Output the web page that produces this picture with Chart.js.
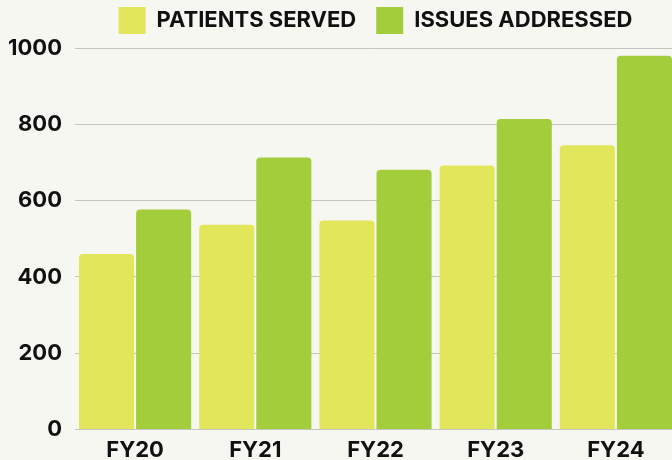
<!DOCTYPE html>
<html>
<head>
<meta charset="utf-8">
<script src="https://cdn.jsdelivr.net/npm/chart.js@4"></script>
<style>
  html, body { margin: 0; padding: 0; background: #f7f7f2; overflow: hidden; }
  #wrap { width: 680px; height: 460px; position: relative; }
</style>
</head>
<body>
<div id="wrap"><canvas id="fyChart"></canvas></div>
<script>
const years = ['FY20', 'FY21', 'FY22', 'FY23', 'FY24'];
const patientsServed = [460, 537, 548, 692, 745];
const issuesAddressed = [577, 713, 681, 814, 980];
const yTicks = [0, 200, 400, 600, 800, 1000];

Chart.defaults.font.family = 'Inter';
Chart.defaults.font.weight = 'bold';
Chart.defaults.color = '#111';

// give the legend a bit more room below it
const legendGap = {
    id: 'legendGap',
    beforeInit(chart) {
        const fit = chart.legend.fit;
        chart.legend.fit = function () {
            fit.call(this);
            this.height += 4;
        };
    }
};

var ctx = document.getElementById('fyChart');
var myChart = new Chart(ctx, {
    type: 'bar',
    plugins: [legendGap],
    data: {
        labels: years,
        datasets: [
            {
                label: 'PATIENTS SERVED',
                data: patientsServed,
                backgroundColor: '#e2e65a',
            },
            {
                label: 'ISSUES ADDRESSED',
                data: issuesAddressed,
                backgroundColor: '#a3cd3b',
            },
        ]
    },
    options: {
        responsive: true,
        maintainAspectRatio: false,
        animation: false,
        layout: {
            padding: { top: -13, left: -5, right: 4, bottom: -12 },
        },
        datasets: {
            bar: {
                categoryPercentage: 0.95,
                barPercentage: 0.965,
                borderRadius: 4,
            },
        },
        plugins: {
            legend: {
                position: 'top',
                fullSize: false,
                labels: {
                    boxWidth: 27,
                    boxHeight: 27,
                    padding: 20,
                    color: '#111',
                    font: { size: 22, weight: 'bold' },
                },
            },
            tooltip: { enabled: false },
        },
        scales: {
            x: {
                grid: { display: false, drawTicks: false },
                border: { display: false },
                ticks: {
                    padding: 8,
                    maxRotation: 0,
                    font: { size: 22, weight: 'bold' },
                },
            },
            y: {
                min: 0,
                max: 1000,
                afterBuildTicks: function (axis) {
                    axis.ticks = yTicks.map(v => ({ value: v }));
                },
                grid: {
                    color: '#c6c6c1',
                    drawTicks: false,
                },
                border: { display: false },
                ticks: {
                    padding: 13,
                    font: { size: 22, weight: 'bold' },
                    callback: function (value) {
                        return String(value);
                    },
                },
            },
        },
    },
});
</script>
</body>
</html>
